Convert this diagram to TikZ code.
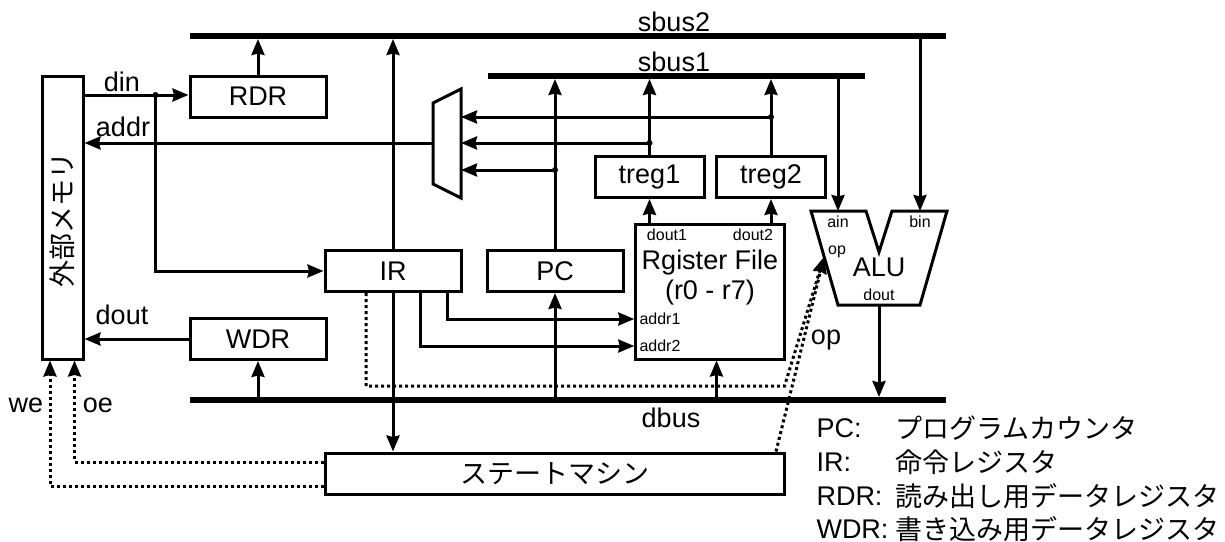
\documentclass[tikz,border=0pt]{standalone}
\usepackage{fontspec}
\setmainfont{Liberation Sans}
\newfontfamily\cjk{Noto Sans CJK JP}
\usetikzlibrary{arrows.meta}
\tikzstyle{block} =
	[
		rectangle,
		draw,
		inner sep = 0pt,
		minimum width = 136pt,
		minimum height = 41pt
	]
\tikzstyle{bus} =
	[
		rectangle,
		fill = black,
		inner sep = 0pt,
		outer sep = 0pt,
		minimum height = 6pt
	]
\tikzstyle{dot} =
	[
		circle,
		fill = black,
		inner sep = 0pt,
		minimum size = 6pt
	]
\tikzstyle{line} =
	[
		draw,
		-{Stealth[length = 16pt, width = 13pt, inset = 1.5pt]}
	]
\tikzstyle{ctrl} =
	[
		line,
		dash pattern = on 3pt off 3pt
	]
\tikzstyle{small} =
	[
		inner sep = 0pt,
		font = \fontsize{16}{18}\selectfont
	]
\tikzstyle{legend} =
	[
		anchor = west,
		inner sep = 0pt
	]

\begin{document}
\begin{tikzpicture}[x = 1pt, y = -1pt, line width = 3pt, font = \fontsize{27}{30}\selectfont]
	\useasboundingbox (0,0) rectangle (1225,541);
	\node [bus, minimum width = 756pt] (sbustwo) at (568,36) {};
	\node [bus, minimum width = 377pt] (sbusone) at (676.5,76) {};
	\node [bus, below of = sbustwo, node distance = 364pt, minimum width = 756pt] (dbus) {};
	\node at (674,22) (sbustwolabel) {sbus2};
	\node at (674,62) (sbusonelabel) {sbus1};
	\node at (671,418) (dbuslabel) {dbus};
	\node [block, minimum width = 41pt, minimum height = 283pt] (mem) at (62.5,217.5) {};
	\node [rotate = 90] (memlabel) at (62,220) {\cjk 外部メモリ};
	\node [block] (rdr) at (258,96.5) {RDR};
	\node [block, below of = rdr, node distance = 242.5pt] (wdr) {WDR};
	\node [block] (ir) at (393,271) {IR};
	\node [block, right of = ir, node distance = 162pt] (pc) {PC};
	\node [block, minimum width = 109pt] (tregone) at (649.5,177) {treg1};
	\node [block, right of = tregone, node distance = 121.5pt, minimum width = 109pt] (tregtwo) {treg2};
	\node [block, minimum width = 148.5pt, minimum height = 135pt] (rf) at (710,291.5) {};
	\node [above of = rf, node distance = 14pt, align = center] (rflabel) {Rgister File\\(r0 - r7)};
	\node [small] (doutone) at (667,235) {dout1};
	\node [small] (douttwo) at (753,235) {dout2};
	\node [small, anchor = west] (addrone) at (638,319) {addr1};
	\node [small, anchor = west] (addrtwo) at (638,346) {addr2};
	\node [block, minimum width = 459.5pt] (stm) at (555,473.5) {\cjk ステートマシン};
	\node at (122,82) (dinlabel) {din};
	\node at (123,127) (addrlabel) {addr};
	\node at (122,315) (doutlabel) {dout};
	\node at (26,405) (welabel) {we};
	\node at (98,405) (oelabel) {oe};
	\node at (826,340) (oplabel) {op};
	\coordinate (muxa) at (433,103);
	\coordinate (muxb) at (461,89);
	\coordinate (muxc) at (461,198);
	\coordinate (muxd) at (433,184);
	\draw [line join = miter] (muxa) -- (muxb) -- (muxc) -- (muxd) -- cycle;
	\coordinate (muxout) at (433,143);
	\coordinate (alua) at (811,211);
	\coordinate (alub) at (866,211);
	\coordinate (aluc) at (879,252);
	\coordinate (alud) at (892,211);
	\coordinate (alue) at (947,211);
	\coordinate (aluf) at (920,305);
	\coordinate (alug) at (838,305);
	\draw (alua) -- (alub) -- (aluc) -- (alud) -- (alue) -- (aluf) -- (alug) -- cycle;
	\coordinate (ain) at (838,211);
	\coordinate (bin) at (920,211);
	\coordinate (aluout) at (879,305);
	\coordinate (opin) at (824,257);
	\node (alulabel) at (879,267) {ALU};
	\node [small] (ainlabel) at (838,222) {ain};
	\node [small] (binlabel) at (920,222) {bin};
	\node [small] (aoplabel) at (837,252) {op};
	\node [small] (adoutlabel) at (879,295) {dout};
	\node [dot] (dinbranch) at (155.5,95) {};
	\node [dot] (branchtwo) at (771,117) {};
	\node [dot] (branchone) at (649.5,143) {};
	\node [dot] (branchpc) at (555,170) {};
	\path [line] (dinbranch -| mem.east) -- (dinbranch -| rdr.west);
	\path [line] (dinbranch.center) |- (ir.west);
	\path [line] (muxout) -- (muxout -| mem.east);
	\path [line] (wdr.west) -- (wdr.west -| mem.east);
	\path [line] (rdr.north) -- (rdr.north |- sbustwo.south);
	\path [line] (ir.north) -- (ir.north |- sbustwo.south);
	\path [line] (pc.north) -- (pc.north |- sbusone.south);
	\path [line] (tregone.north) -- (tregone.north |- sbusone.south);
	\path [line] (tregtwo.north) -- (tregtwo.north |- sbusone.south);
	\path [line] (branchtwo.center) -- (branchtwo -| muxb);
	\path [line] (branchone.center) -- (branchone -| muxb);
	\path [line] (branchpc.center) -- (branchpc -| muxb);
	\path [line] (tregone.south |- rf.north) -- (tregone.south);
	\path [line] (tregtwo.south |- rf.north) -- (tregtwo.south);
	\path [line] (wdr.south |- dbus.north) -- (wdr.south);
	\path [line] (pc.south |- dbus.north) -- (pc.south);
	\path [line] ([xshift = 6.5pt]rf.south |- dbus.north) -- ([xshift = 6.5pt]rf.south);
	\path [line] (ir.south) -- (ir.south |- stm.north);
	\path [line] ([xshift = 54.5pt]ir.south) |- (rf.west |- addrone);
	\path [line] ([xshift = 27pt]ir.south) |- (rf.west |- addrtwo);
	\path [line] (ain |- sbusone.south) -- (ain);
	\path [line] (bin |- sbustwo.south) -- (bin);
	\path [line] (aluout) -- (aluout |- dbus.north);
	\path [ctrl] ([yshift = 11.5pt]stm.west) -| ([xshift = 12pt]mem.south);
	\path [ctrl] ([yshift = -12.5pt]stm.west) -| ([xshift = -12.5pt]mem.south);
	\coordinate (opturn) at (784.5,386);
	\path [ctrl] ([xshift = -27pt]ir.south) |- (opturn) -- (opin);
	\path [ctrl] ([xshift = 221pt]stm.north) -- (opin);
	\node [legend] (pckey) at (815,428) {PC:};
	\node [legend] (irkey) at (815,462) {IR:};
	\node [legend] (rdrkey) at (815,496) {RDR:};
	\node [legend] (wdrkey) at (815,529) {WDR:};
	\node [legend] (pcname) at (894,428) {\cjk プログラムカウンタ};
	\node [legend] (irname) at (894,462) {\cjk 命令レジスタ};
	\node [legend] (rdrname) at (894,496) {\cjk 読み出し用データレジスタ};
	\node [legend] (wdrname) at (894,529) {\cjk 書き込み用データレジスタ};
\end{tikzpicture}
\end{document}
